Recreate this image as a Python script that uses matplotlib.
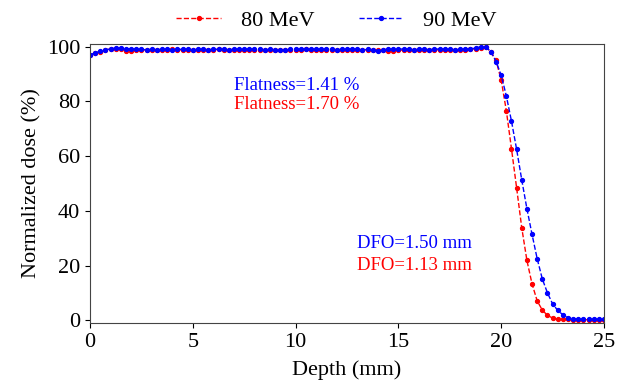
import matplotlib
matplotlib.use("Agg")
import matplotlib.pyplot as plt
import numpy as np

# =========================
# Data
# =========================
depth = [i * 0.25 for i in range(101)]

dose_90 = [
    97.0, 97.8, 98.3, 98.9, 99.2, 99.5, 99.5, 99.3, 99.2, 99.1,
    99.0, 98.9, 99.0, 98.9, 99.0, 99.0, 98.9, 99.0, 99.1, 99.0,
    98.9, 99.0, 99.0, 98.9, 99.0, 99.1, 99.0, 98.9, 99.0, 99.0,
    99.1, 99.0, 99.2, 99.0, 98.9, 99.0, 98.8, 98.9, 98.7, 99.0,
    99.1, 99.0, 99.2, 99.0, 99.1, 99.0, 99.2, 99.0, 98.9, 99.0,
    99.1, 99.2, 99.0, 98.9, 99.0, 98.7, 98.6, 98.9, 99.1, 99.2,
    99.1, 99.2, 99.0, 98.9, 99.0, 99.0, 98.9, 99.1, 99.2, 99.0,
    99.0, 98.9, 99.0,
    99.0, 99.2, 99.5, 100.0, 100.0, 98.2, 94.6, 89.6, 82.0, 72.8,
    62.5, 51.3, 40.8, 31.4, 22.5, 15.1, 10.0, 6.0, 3.6, 2.0,
    1.0, 0.6, 0.4, 0.3, 0.3, 0.3, 0.3, 0.3,
]

dose_80 = [
    96.8, 97.6, 98.2, 98.8, 99.2, 99.3, 99.0, 98.6, 98.6, 98.7,
    98.8, 98.9, 98.8, 98.9, 98.8, 98.9, 99.0, 98.9, 98.8, 98.9,
    98.9, 98.8, 98.9, 98.8, 98.9, 99.0, 98.9, 98.8, 98.9, 98.9,
    98.8, 98.9, 98.9, 98.8, 98.9, 98.8, 98.9, 98.9, 98.8, 98.9,
    98.8, 98.9, 99.0, 98.9, 98.8, 98.9, 98.8, 98.9, 98.8, 98.9,
    98.9, 98.8, 98.9, 98.8, 98.9, 98.9, 98.8, 98.9, 98.6, 98.5,
    98.7, 98.8, 98.9, 98.8, 98.9, 98.8, 98.9, 98.8, 98.9, 98.8,
    98.7, 98.8, 98.9,
    98.9, 99.0, 99.3, 99.7, 100.0, 98.0, 95.0, 87.8, 76.6, 62.7,
    48.4, 33.8, 21.9, 13.3, 7.1, 3.7, 1.8, 0.8, 0.4, 0.3,
    0.3, 0.2, 0.2, 0.2, 0.2, 0.2, 0.2, 0.2,
]

labels = ["80 MeV", "90 MeV"]
flatness = [1.70, 1.41]
dfo = [1.13, 1.50]

# =========================
# Plot
# =========================
plt.rcParams["font.family"] = ["Liberation Serif", "DejaVu Serif"]
plt.rcParams["font.size"] = 16

fig = plt.figure(figsize=(6.22, 3.82), dpi=100)
ax = fig.add_axes([90 / 622, 1 - 323 / 382, 514 / 622, 279 / 382])

ax.plot(depth, dose_80, linestyle="--", color="red", marker="o", markersize=2.8,
        linewidth=1, label=labels[0])
ax.plot(depth, dose_90, linestyle="--", color="blue", marker="o", markersize=2.8,
        linewidth=1, label=labels[1])

ax.set_xlim(0, 25)
ax.set_ylim(-1, 101)
ax.set_xticks([0, 5, 10, 15, 20, 25])
ax.set_yticks([0, 20, 40, 60, 80, 100])
ax.tick_params(labelsize=16)
ax.tick_params(axis="x", pad=4)
ax.set_xlabel("Depth (mm)", labelpad=6)
ax.set_ylabel("Normalized dose (%)", labelpad=4)

for s in ax.spines.values():
    s.set_color("#444444")

ax.text(7.0, 86, f"Flatness={flatness[1]:.2f} %", color="blue", va="center", fontsize=13.5)
ax.text(7.0, 79, f"Flatness={flatness[0]:.2f} %", color="red", va="center", fontsize=13.5)
ax.text(13.0, 28, f"DFO={dfo[1]:.2f} mm", color="blue", va="center", fontsize=13.5)
ax.text(13.0, 20, f"DFO={dfo[0]:.2f} mm", color="red", va="center", fontsize=13.5)

ax.legend(loc="lower center", bbox_to_anchor=(0.48, 1.0), ncol=2, frameon=False,
          columnspacing=2.0, handlelength=2.0, handletextpad=0.9, borderaxespad=0.2)

fig.savefig("out.png", dpi=100)
